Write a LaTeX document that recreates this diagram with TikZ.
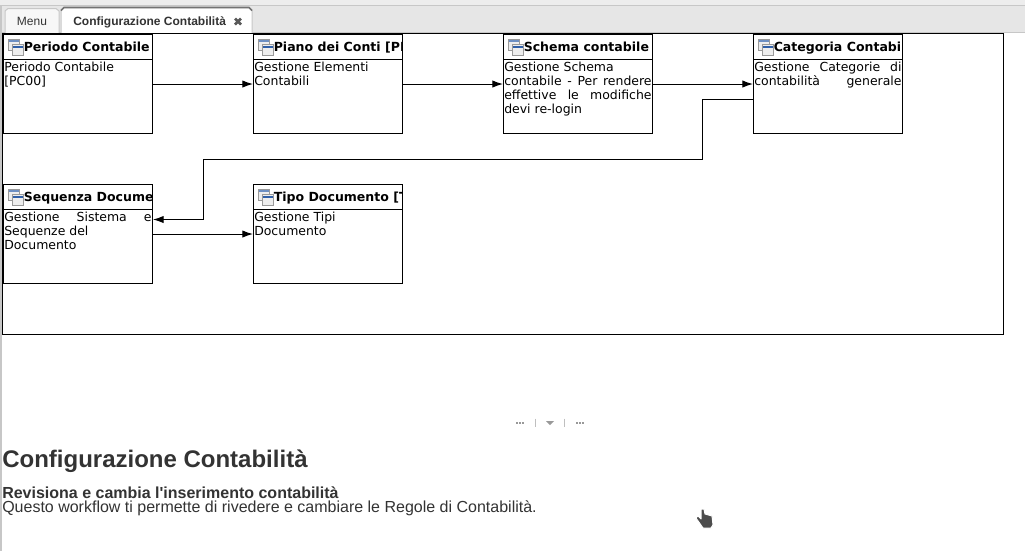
\documentclass[tikz,border=0pt]{standalone}
\usepackage{fontspec}
\setmainfont{Liberation Sans}
\newfontfamily\flowfont{DejaVu Sans}
\usetikzlibrary{arrows.meta,calc}
\definecolor{barcolor}{HTML}{E6E6E6}
\definecolor{headcolor}{HTML}{333333}
\definecolor{iconblue}{HTML}{2F5FA8}
\tikzset{
	flowbox/.style={draw=black, fill=white, line width=0.75pt, minimum width=111.75pt, minimum height=74.25pt, inner sep=0pt},
	flowtitle/.style={anchor=base west, inner sep=0pt, font=\flowfont\bfseries\fontsize{9.4}{12}\selectfont},
	flowbody/.style={anchor=north west, inner sep=0pt, text width=110.5pt, align=justify, font=\flowfont\fontsize{9.35}{10.5}\selectfont},
	flowarrow/.style={draw=black, line width=0.75pt, -{Latex[length=8pt,width=5.5pt]}},
	flowicon/.style={fill=black!7, draw=black!40, line width=0.5pt},
	tabtext/.style={inner sep=0pt, text=headcolor, font=\fontsize{9}{11}\selectfont}
}
% one box of the workflow: name, x, y of centre, title, body
\newcommand{\flownode}[5]{
	\node[flowbox] (#1) at (#2, #3) {};
	\draw[line width=0.75pt] ($(#1.north west)+(0, 25)$) -- ($(#1.north east)+(0, 25)$);
	\begin{scope}
		\clip ($(#1.north west)+(1, 1)$) rectangle ($(#1.north east)+(-1, 24)$);
		\draw[flowicon] ($(#1.north west)+(5.5, 5)$) rectangle ($(#1.north west)+(16, 16)$);
		\fill[iconblue!70] ($(#1.north west)+(6, 5.5)$) rectangle ($(#1.north west)+(15.5, 8)$);
		\draw[flowicon] ($(#1.north west)+(9.5, 10)$) rectangle ($(#1.north west)+(20, 21)$);
		\fill[iconblue] ($(#1.north west)+(10, 11.5)$) rectangle ($(#1.north west)+(19.5, 14)$);
		\node[flowtitle] (#1title) at ($(#1.north west)+(20.5, 17)$) {#4};
	\end{scope}
	\node[flowbody] (#1body) at ($(#1.north west)+(1, 27.5)$) {#5};
}
\begin{document}
\begin{tikzpicture}[x=0.75pt, y=-0.75pt]
	%%%%% START %%%%%
	\useasboundingbox (0, 0) rectangle (1025, 551);
	\fill[white] (0, 0) rectangle (1025, 551);

	% tab bar
	\fill[barcolor] (0, 0) rectangle (1025, 33);
	\fill[barcolor!70!white] (0, 0) rectangle (1025, 5);
	\draw[black!22, line width=0.75pt] (0, 5.5) -- (1025, 5.5);
	\draw[black!22, line width=0.75pt] (0, 32.5) -- (1025, 32.5);
	\fill[black!22] (0, 5) rectangle (2, 551);
	\draw[black!22, fill=black!3, line width=0.75pt] (5, 33) -- (5, 11) -- (8, 8.5) -- (56, 8.5) -- (59, 11) -- (59, 33);
	\draw[black!22, fill=white, line width=0.75pt] (61, 33.5) -- (61, 10.5) -- (64, 7.5) -- (249, 7.5) -- (252, 10.5) -- (252, 33.5);
	\draw[black!55, line width=1.25pt] (61, 10.5) -- (64, 7.5) -- (249, 7.5) -- (252, 10.5);
	\node[tabtext] (menutab) at (32, 21) {Menu};
	\node[tabtext, anchor=west, font=\bfseries\fontsize{9}{11}\selectfont] (configtab) at (73, 22) {Configurazione Contabilità};
	\draw[black!65, line width=2pt] (235, 18.5) -- (241, 24.5) (241, 18.5) -- (235, 24.5);

	% workflow frame
	\draw[black, line width=0.75pt] (2.5, 33.5) rectangle (1003.5, 334.5);

	\flownode{periodo}{78}{84}{Periodo Contabile}{Periodo Contabile\\\relax [PC00]}
	\flownode{piano}{328}{84}{Piano dei Conti [PDC00]}{Gestione Elementi\\Contabili}
	\flownode{schema}{578}{84}{Schema contabile}{Gestione Schema\\contabile\hfill -\hfill Per\hfill rendere\\effettive\hfill le\hfill modifiche\\devi re-login}
	\flownode{categoria}{828}{84}{Categoria Contabile}{Gestione\hfill Categorie\hfill di\\contabilità\hfill generale}
	\flownode{sequenza}{78}{234}{Sequenza Documenti}{Gestione\hfill Sistema\hfill e\\Sequenze del\\Documento}
	\flownode{tipo}{328}{234}{Tipo Documento [TD00]}{Gestione Tipi\\Documento}

	\draw[flowarrow] (periodo.east) -- (piano.west);
	\draw[flowarrow] (piano.east) -- (schema.west);
	\draw[flowarrow] (schema.east) -- (categoria.west);
	\draw[flowarrow] (sequenza.east) -- (tipo.west);
	\coordinate (catout) at ($(categoria.west)+(0, 15.5)$);
	\coordinate (seqin) at ($(sequenza.east)+(0, -14.5)$);
	\draw[flowarrow] (catout) -- (702.5, 99.5) -- (702.5, 159.5) -- (203.5, 159.5) -- (203.5, 219.5) -- (seqin);

	% pane splitter
	\draw[black!40, line width=1.5pt, dash pattern=on 1.5pt off 0.75pt] (516, 423) -- (524, 423);
	\draw[black!25, line width=0.75pt] (535.5, 418.5) -- (535.5, 426.5);
	\fill[black!40] (546, 421) -- (554, 421) -- (550, 425) -- cycle;
	\draw[black!25, line width=0.75pt] (564.5, 418.5) -- (564.5, 426.5);
	\draw[black!40, line width=1.5pt, dash pattern=on 1.5pt off 0.75pt] (576, 423) -- (584, 423);

	% description
	\node[anchor=base west, inner sep=0pt, text=headcolor, font=\bfseries\fontsize{18}{22}\selectfont] (pagetitle) at (2, 467) {Configurazione Contabilità};
	\node[anchor=base west, inner sep=0pt, text=headcolor, font=\bfseries\fontsize{12}{14}\selectfont] (pagesub) at (2, 498) {Revisiona e cambia l\textquotesingle inserimento contabilità};
	\node[anchor=base west, inner sep=0pt, text=headcolor, font=\fontsize{12}{14}\selectfont] (pagetext) at (2, 512) {Questo workflow ti permette di rivedere e cambiare le Regole di Contabilità.};

	% mouse pointer
	\draw[white, fill=black!70, line width=0.75pt, line join=round] (701, 509) -- (704, 509) -- (705, 514) -- (712, 516) -- (713, 525) -- (711, 528) -- (703, 528) -- (696, 518) -- (698, 516) -- (701, 519) -- cycle;
	%%%%% END %%%%%
\end{tikzpicture}
\end{document}
